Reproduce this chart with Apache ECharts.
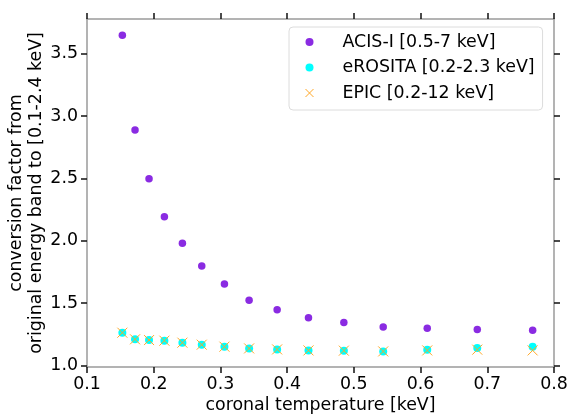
<!DOCTYPE html>
<html>
<head>
<meta charset="utf-8">
<script src="https://cdn.jsdelivr.net/npm/echarts@6/dist/echarts.min.js"></script>
<style>
  html, body { margin: 0; padding: 0; background: #fff; }
  #chart { width: 569px; height: 414px; }
</style>
</head>
<body>
<div id="chart"></div>
<script>
// coronal temperature [keV]
const temps = [0.153, 0.172, 0.193, 0.216, 0.243, 0.272, 0.306, 0.343, 0.385, 0.432, 0.485, 0.544, 0.610, 0.685, 0.768];
// conversion factors to [0.1-2.4 keV]
const acisI = [3.647, 2.888, 2.497, 2.193, 1.980, 1.797, 1.653, 1.523, 1.446, 1.381, 1.343, 1.308, 1.297, 1.287, 1.282];
const erosita = [1.262, 1.209, 1.203, 1.198, 1.182, 1.166, 1.150, 1.136, 1.128, 1.120, 1.118, 1.112, 1.126, 1.139, 1.150];
const epic = [1.262, 1.209, 1.203, 1.198, 1.182, 1.166, 1.150, 1.136, 1.128, 1.120, 1.118, 1.112, 1.120, 1.126, 1.120];
const yTicks = [1.0, 1.5, 2.0, 2.5, 3.0, 3.5];
const seriesNames = ["ACIS-I [0.5-7 keV]", "eROSITA [0.2-2.3 keV]", "EPIC [0.2-12 keV]"];

const pairs = (ys) => temps.map((t, i) => [t, ys[i]]);

const chart = echarts.init(document.getElementById("chart"));

const FS = 17.4;
const spine = { show: true, lineStyle: { color: "#9a9a9a", width: 1.5 } };
const tick = { show: true, inside: false, length: 6, lineStyle: { color: "#111", width: 1.5 } };
const crossPath = "path://M0,0L10,10M10,0L0,10";

const option = {
  animation: false,
  textStyle: { fontFamily: "DejaVu Sans" },
  grid: { left: 87, right: 15, top: 19, bottom: 47, containLabel: false, outerBoundsMode: "none" },
  legend: {
    left: 289,
    top: 27,
    orient: "vertical",
    padding: [5, 8, 7, 16],
    itemWidth: 16,
    itemHeight: 8,
    itemGap: 5.5,
    borderColor: "#dcdcdc",
    borderWidth: 1,
    borderRadius: 4,
    textStyle: { fontSize: FS, color: "#000", lineHeight: 20, padding: [0, 0, 0, 20] },
    data: [
      { name: seriesNames[0], icon: "circle" },
      { name: seriesNames[1], icon: "circle" },
      { name: seriesNames[2], icon: crossPath, itemStyle: { color: "transparent", borderColor: "#ffa726", borderWidth: 1 } },
    ],
  },
  xAxis: [
    {
      type: "value",
      min: 0.1,
      max: 0.8,
      interval: 0.1,
      name: "coronal temperature [keV]",
      nameLocation: "middle",
      nameGap: 30,
      nameMoveOverlap: false,
      nameTextStyle: { fontSize: FS, color: "#000" },
      axisLine: spine,
      axisTick: tick,
      splitLine: { show: false },
      axisLabel: { fontSize: FS, color: "#000", margin: 9, formatter: (v) => v.toFixed(1) },
    },
    {
      type: "value",
      position: "top",
      min: 0.1,
      max: 0.8,
      interval: 0.1,
      axisLine: spine,
      axisTick: tick,
      splitLine: { show: false },
      axisLabel: { show: false },
    },
  ],
  yAxis: [
    {
      type: "value",
      min: 0.987,
      max: 3.778,
      name: "conversion factor from\noriginal energy band to [0.1-2.4 keV]",
      nameLocation: "middle",
      nameRotate: 90,
      nameGap: 41,
      nameMoveOverlap: false,
      nameTextStyle: { fontSize: FS, color: "#000", lineHeight: 20 },
      axisLine: spine,
      axisTick: Object.assign({}, tick, { customValues: yTicks }),
      splitLine: { show: false },
      axisLabel: { fontSize: FS, color: "#000", margin: 9, customValues: yTicks, formatter: (v) => v.toFixed(1) },
    },
    {
      type: "value",
      position: "right",
      min: 0.987,
      max: 3.778,
      axisLine: spine,
      axisTick: Object.assign({}, tick, { customValues: yTicks }),
      splitLine: { show: false },
      axisLabel: { show: false, customValues: yTicks },
    },
  ],
  series: [
    {
      name: seriesNames[0],
      type: "scatter",
      symbol: "circle",
      symbolSize: 7.5,
      itemStyle: { color: "#8a2be2", opacity: 1 },
      data: pairs(acisI),
    },
    {
      name: seriesNames[1],
      type: "scatter",
      symbol: "circle",
      symbolSize: 8,
      itemStyle: { color: "#00ffff", opacity: 1 },
      data: pairs(erosita),
    },
    {
      name: seriesNames[2],
      type: "scatter",
      symbol: crossPath,
      symbolSize: 10,
      itemStyle: { color: "transparent", borderColor: "#ffa726", borderWidth: 1, opacity: 1 },
      data: pairs(epic),
    },
  ],
};

chart.setOption(option);
</script>
</body>
</html>
